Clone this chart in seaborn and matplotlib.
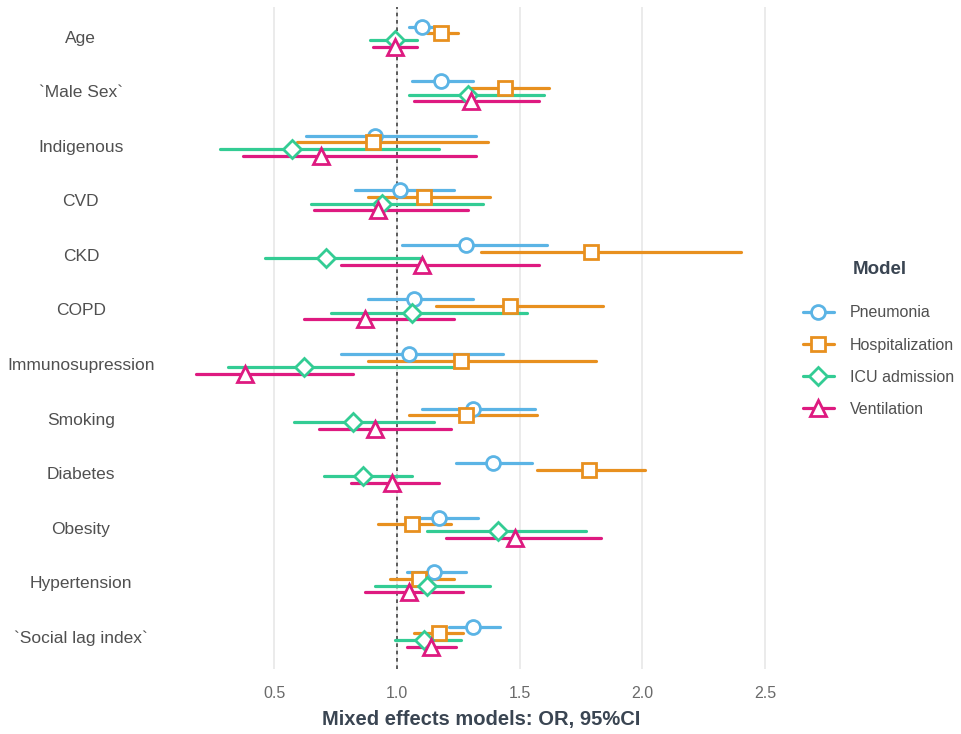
import numpy as np
import pandas as pd
import seaborn as sns
import matplotlib.pyplot as plt
from matplotlib.lines import Line2D

# %% data (odds ratios and 95% CI)
variables = ['Age', '`Male Sex`', 'Indigenous', 'CVD', 'CKD', 'COPD',
             'Immunosupression', 'Smoking', 'Diabetes', 'Obesity',
             'Hypertension', '`Social lag index`']
models = ['Pneumonia', 'Hospitalization', 'ICU admission', 'Ventilation']

pneu_or = [1.10, 1.18, 0.91, 1.01, 1.28, 1.07, 1.05, 1.31, 1.39, 1.17, 1.15, 1.31]
pneu_lo = [1.05, 1.06, 0.63, 0.83, 1.02, 0.88, 0.77, 1.10, 1.24, 1.03, 1.04, 1.21]
pneu_hi = [1.16, 1.31, 1.32, 1.23, 1.61, 1.31, 1.43, 1.56, 1.55, 1.33, 1.28, 1.42]

hosp_or = [1.18, 1.44, 0.90, 1.11, 1.79, 1.46, 1.26, 1.28, 1.78, 1.06, 1.09, 1.17]
hosp_lo = [1.12, 1.29, 0.59, 0.88, 1.34, 1.16, 0.88, 1.05, 1.57, 0.92, 0.97, 1.07]
hosp_hi = [1.25, 1.62, 1.37, 1.38, 2.40, 1.84, 1.81, 1.57, 2.01, 1.22, 1.23, 1.27]

icu_or = [0.99, 1.29, 0.57, 0.94, 0.71, 1.06, 0.62, 0.82, 0.86, 1.41, 1.12, 1.11]
icu_lo = [0.89, 1.05, 0.28, 0.65, 0.46, 0.73, 0.31, 0.58, 0.70, 1.12, 0.91, 0.99]
icu_hi = [1.08, 1.60, 1.17, 1.35, 1.10, 1.53, 1.25, 1.15, 1.06, 1.77, 1.38, 1.26]

vent_or = [0.99, 1.30, 0.69, 0.92, 1.10, 0.87, 0.38, 0.91, 0.98, 1.48, 1.05, 1.14]
vent_lo = [0.90, 1.07, 0.37, 0.66, 0.77, 0.62, 0.18, 0.68, 0.81, 1.20, 0.87, 1.04]
vent_hi = [1.08, 1.58, 1.32, 1.29, 1.58, 1.23, 0.82, 1.22, 1.17, 1.83, 1.27, 1.24]

x_ticks = [0.5, 1.0, 1.5, 2.0, 2.5]

palette = ['#5BB4E5', '#E8901F', '#33CC94', '#DE1A80']
markers = ['o', 's', 'D', '^']
msizes = [10, 9.5, 9, 12]

# long table: three rows (lo, est, hi) per variable/model, the estimator picks
# the middle one and the errorbar spans min..max
series = {
    'Pneumonia': (pneu_lo, pneu_or, pneu_hi),
    'Hospitalization': (hosp_lo, hosp_or, hosp_hi),
    'ICU admission': (icu_lo, icu_or, icu_hi),
    'Ventilation': (vent_lo, vent_or, vent_hi),
}
rows = []
for m in models:
    for vals in series[m]:
        for v, x in zip(variables, vals):
            rows.append({'variable': v, 'model': m, 'OR': x})
df = pd.DataFrame(rows)

# %% plot
sns.set_theme(style='white')
plt.rcParams['font.family'] = ['Liberation Sans', 'DejaVu Sans']

fig = plt.figure(figsize=(9.62, 7.34), dpi=100)
ax = fig.add_axes([0.1736, 0.0886, 0.6524, 0.9019])

for i, m in enumerate(models):
    sub = df[df['model'] == m]
    sns.pointplot(data=sub, x='OR', y='variable', order=variables,
                  estimator='median', errorbar=lambda v: (v.min(), v.max()),
                  color=palette[i], marker=markers[i], markersize=msizes[i],
                  markerfacecolor='white', markeredgewidth=2,
                  linestyle='none', err_kws={'linewidth': 2.3, 'zorder': 2},
                  native_scale=False, ax=ax, zorder=3)
    # dodge the series by shifting this model's artists
    off = -0.183 + i * 0.122
    for ln in ax.lines[-(len(variables) + 1):]:
        y = np.asarray(ln.get_ydata(), dtype=float)
        ln.set_ydata(y + off)

ax.axvline(1.0, color='#444444', linestyle=(0, (2.2, 2.2)), linewidth=1.2, zorder=1)

ax.set_xlim(0.062, 2.62)
ax.set_ylim(len(variables) - 1 + 0.59, -0.545)
ax.set_xticks(x_ticks)
ax.set_xticklabels([f'{t:.1f}' for t in x_ticks])
ax.grid(axis='x', color='#E6E6E6', linewidth=1.1)
ax.grid(axis='y', visible=False)
ax.set_axisbelow(True)
for s in ax.spines.values():
    s.set_visible(False)

ax.tick_params(axis='x', length=0, pad=12, labelsize=11.5, labelcolor='#6A6A6A')
ax.tick_params(axis='y', length=0, pad=62, labelsize=12.5, labelcolor='#505050')
for lab in ax.get_yticklabels():
    lab.set_horizontalalignment('center')

ax.set_ylabel('')
ax.set_xlabel('Mixed effects models: OR, 95%CI', fontsize=14.5, fontweight='bold',
              color='#3A4552', labelpad=7)

handles = [Line2D([], [], color=palette[i], marker=markers[i], markersize=msizes[i],
                  markerfacecolor='white', markeredgewidth=2, linewidth=2.3)
           for i in range(len(models))]
leg = fig.legend(handles, models, loc='upper left',
                 bbox_to_anchor=(0.82, 0.6035), frameon=False, fontsize=11.5,
                 handlelength=1.9, labelspacing=1.075, handletextpad=1.0)
for t in leg.get_texts():
    t.set_color('#505050')
fig.text(0.886, 1 - 269 / 734, 'Model', fontsize=13.5, fontweight='bold',
         color='#3A4552', ha='left', va='center')

plt.savefig('out.png', dpi=100)
